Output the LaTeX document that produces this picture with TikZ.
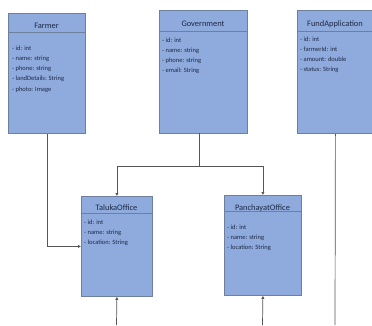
\documentclass[tikz,border=0pt]{standalone}
\usepackage{fontspec}
\setmainfont{Carlito}
\usetikzlibrary{arrows.meta,calc}
\definecolor{boxfill}{HTML}{8FAADC}
\definecolor{boxline}{HTML}{6F7F9E}
\definecolor{wire}{HTML}{555555}
\definecolor{ink}{HTML}{1E2A48}
\tikzset{
  classbox/.style={draw=boxline, fill=boxfill, line width=0.8pt, rectangle, anchor=north west, inner sep=0pt},
  title/.style={text=ink, font=\fontsize{8.4}{9}\selectfont, inner sep=0pt, anchor=base},
  attrs/.style={text=ink, font=\fontsize{6.5}{10.2}\selectfont, inner sep=0pt, anchor=north west, align=left},
  wireline/.style={draw=wire, line width=0.7pt},
  arr/.style={wireline, -{Latex[length=3pt,width=3.4pt]}},
}
\begin{document}
\begin{tikzpicture}[x=1pt,y=-1pt]
\useasboundingbox (0,0) rectangle (372,325);

% class boxes
\node[classbox, minimum width=77pt, minimum height=120pt] (farmer) at (8,13) {};
\node[classbox, minimum width=88pt, minimum height=123pt] (gov) at (159,10) {};
\node[classbox, minimum width=76pt, minimum height=123pt] (fund) at (297,10) {};
\node[classbox, minimum width=71pt, minimum height=100pt] (taluka) at (81,196) {};
\node[classbox, minimum width=77pt, minimum height=100pt] (panch) at (224,195) {};

% header separators
\draw[boxline, line width=0.8pt] (8,32) -- (85,32);
\draw[boxline, line width=0.8pt] (159,31) -- (247,31);
\draw[boxline, line width=0.8pt] (297,31) -- (373,31);
\draw[boxline, line width=0.8pt] (81,213) -- (152,213);
\draw[boxline, line width=0.8pt] (224,211) -- (301,211);

% titles
\node[title] (farmerT) at (46.5,28.5) {Farmer};
\node[title] (govT) at (203,26.5) {Government};
\node[title] (fundT) at (335,26.5) {FundApplication};
\node[title] (talukaT) at (116.5,210.5) {TalukaOffice};
\node[title] (panchT) at (262.5,210) {PanchayatOffice};

% attributes
\node[attrs] (farmerA) at (12,45.5) {- id: int\\- name: string\\- phone: string\\- landDetails: String\\- photo: Image};
\node[attrs] (govA) at (162,37.5) {- id: int\\- name: string\\- phone: string\\- email: String};
\node[attrs] (fundA) at (300,36.5) {- id: int\\- farmerId: int\\- amount: double\\- status: String};
\node[attrs] (talukaA) at (84,219.5) {- id: int\\- name: string\\- location: String};
\node[attrs] (panchA) at (227,224.5) {- id: int\\- name: string\\- location: String};

% connector end points
\coordinate (govOut) at (199,133);
\coordinate (split) at (199,166);
\coordinate (talukaIn) at (116.5,325);
\coordinate (panchIn) at (262.5,325);
\coordinate (fundOut) at (335,325);

% connectors
\draw[arr] (farmer.south) |- (taluka.west);
\draw[wireline] (govOut) -- (split);
\draw[arr] (split) -| (taluka.north);
\draw[arr] (split) -| (panch.north);
\draw[wireline] (fund.south) -- (fundOut);
\draw[arr] (talukaIn) -- (taluka.south);
\draw[arr] (panchIn) -- (panch.south);
\end{tikzpicture}
\end{document}
